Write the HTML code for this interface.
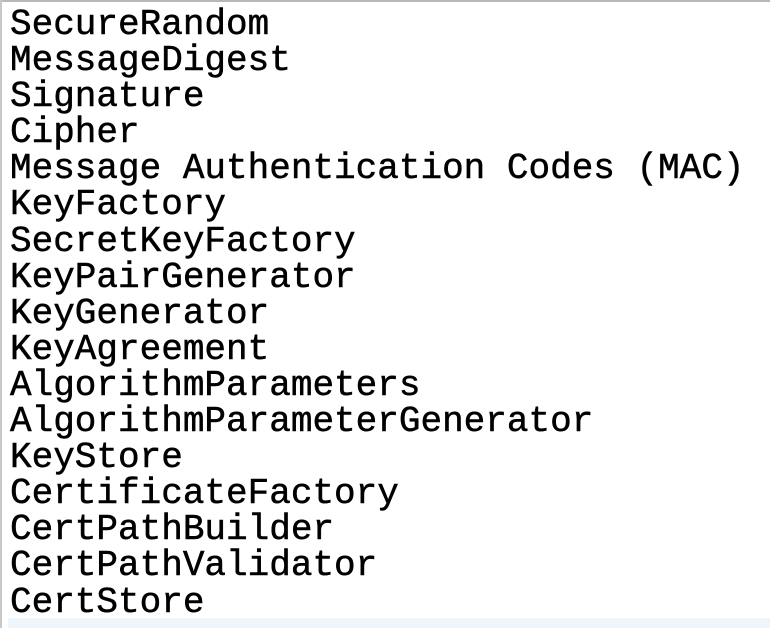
<!DOCTYPE html>
<html><head><meta charset="utf-8"><style>
html,body{margin:0;padding:0;background:#fff;width:770px;height:628px;overflow:hidden;position:relative}
.top{position:absolute;left:0;top:0;width:770px;height:2px;background:#b8b8b8}
.left{position:absolute;left:0;top:0;width:2px;height:628px;background:#c8c8c8}
.band{position:absolute;left:8px;top:618px;width:762px;height:10px;background:#eef6fc}
pre{position:absolute;left:10px;top:7px;margin:0;font-family:"Liberation Mono","Courier New",monospace;font-size:36px;line-height:36.1px;color:#000;-webkit-text-stroke:0.5px #000}
</style></head><body>
<div class="top"></div><div class="left"></div><div class="band"></div>
<pre>SecureRandom
MessageDigest
Signature
Cipher
Message Authentication Codes (MAC)
KeyFactory
SecretKeyFactory
KeyPairGenerator
KeyGenerator
KeyAgreement
AlgorithmParameters
AlgorithmParameterGenerator
KeyStore
CertificateFactory
CertPathBuilder
CertPathValidator
CertStore</pre>
</body></html>
